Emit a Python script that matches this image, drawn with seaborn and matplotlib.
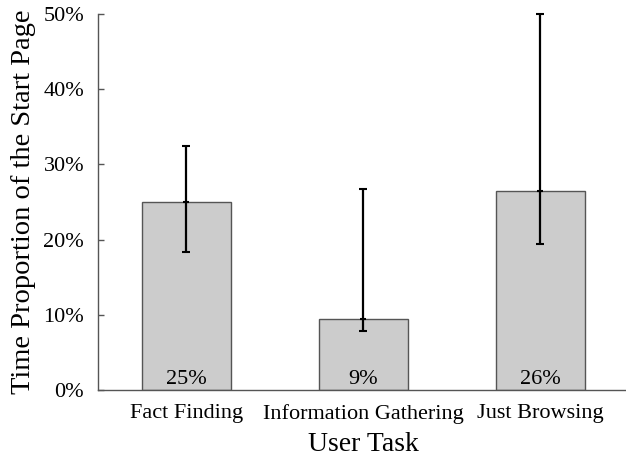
"""
Time proportion of the start page per user task — bar chart with asymmetric error bars.
"""

import numpy as np
import matplotlib
matplotlib.use("Agg")
import matplotlib.pyplot as plt
import seaborn as sns
from matplotlib.ticker import PercentFormatter

# ────────────────────────────────────────────────────────────────────
#  Data (percent)
# ────────────────────────────────────────────────────────────────────
tasks = ["Fact Finding", "Information Gathering", "Just Browsing"]
means = [25.0, 9.4, 26.5]
err_low = [18.3, 7.8, 19.4]
err_high = [32.4, 26.8, 50.0]
bar_labels = ["25%", "9%", "26%"]
y_ticks = [0, 10, 20, 30, 40, 50]

sns.set_style("white")
plt.rcParams["font.family"] = ["Liberation Serif", "DejaVu Serif"]
plt.rcParams["text.color"] = "black"
plt.rcParams["axes.labelcolor"] = "black"
plt.rcParams["xtick.color"] = "black"
plt.rcParams["ytick.color"] = "black"

fig = plt.figure(figsize=(6.26, 4.59), dpi=100)
ax = fig.add_axes([0.1565, 0.150, 0.848, 0.8195])

sns.barplot(x=tasks, y=means, color="#cccccc", width=0.5,
            edgecolor="#555555", linewidth=1.0, saturation=1, ax=ax)

x = np.arange(len(tasks))
lower = np.array(means) - np.array(err_low)
upper = np.array(err_high) - np.array(means)
ax.errorbar(x, means, yerr=[lower, upper], fmt="_", color="black",
            markersize=5, markeredgewidth=1.5, elinewidth=1.6,
            capsize=2.6, capthick=1.8, clip_on=False, zorder=5)

for i, lab in enumerate(bar_labels):
    ax.text(x[i], 0.1, lab, ha="center", va="bottom", fontsize=16)

ax.set_xlim(-0.5, 2.5)
ax.set_ylim(0, 50)
ax.set_yticks(y_ticks)
ax.yaxis.set_major_formatter(PercentFormatter(decimals=0))

for side in ["top", "right"]:
    ax.spines[side].set_visible(False)
for side in ["left", "bottom"]:
    ax.spines[side].set_color("#555555")
    ax.spines[side].set_linewidth(1.0)

ax.tick_params(axis="y", direction="in", length=4.5, width=1.0,
               color="#555555", labelcolor="black", labelsize=16, pad=10, left=True)
ax.tick_params(axis="x", length=0, labelsize=16, pad=10, labelcolor="black")

ax.set_xlabel("User Task", fontsize=20, labelpad=6)
ax.set_ylabel("Time Proportion of the Start Page", fontsize=20.5, labelpad=5)

fig.savefig("out.png", dpi=100)
plt.close(fig)
